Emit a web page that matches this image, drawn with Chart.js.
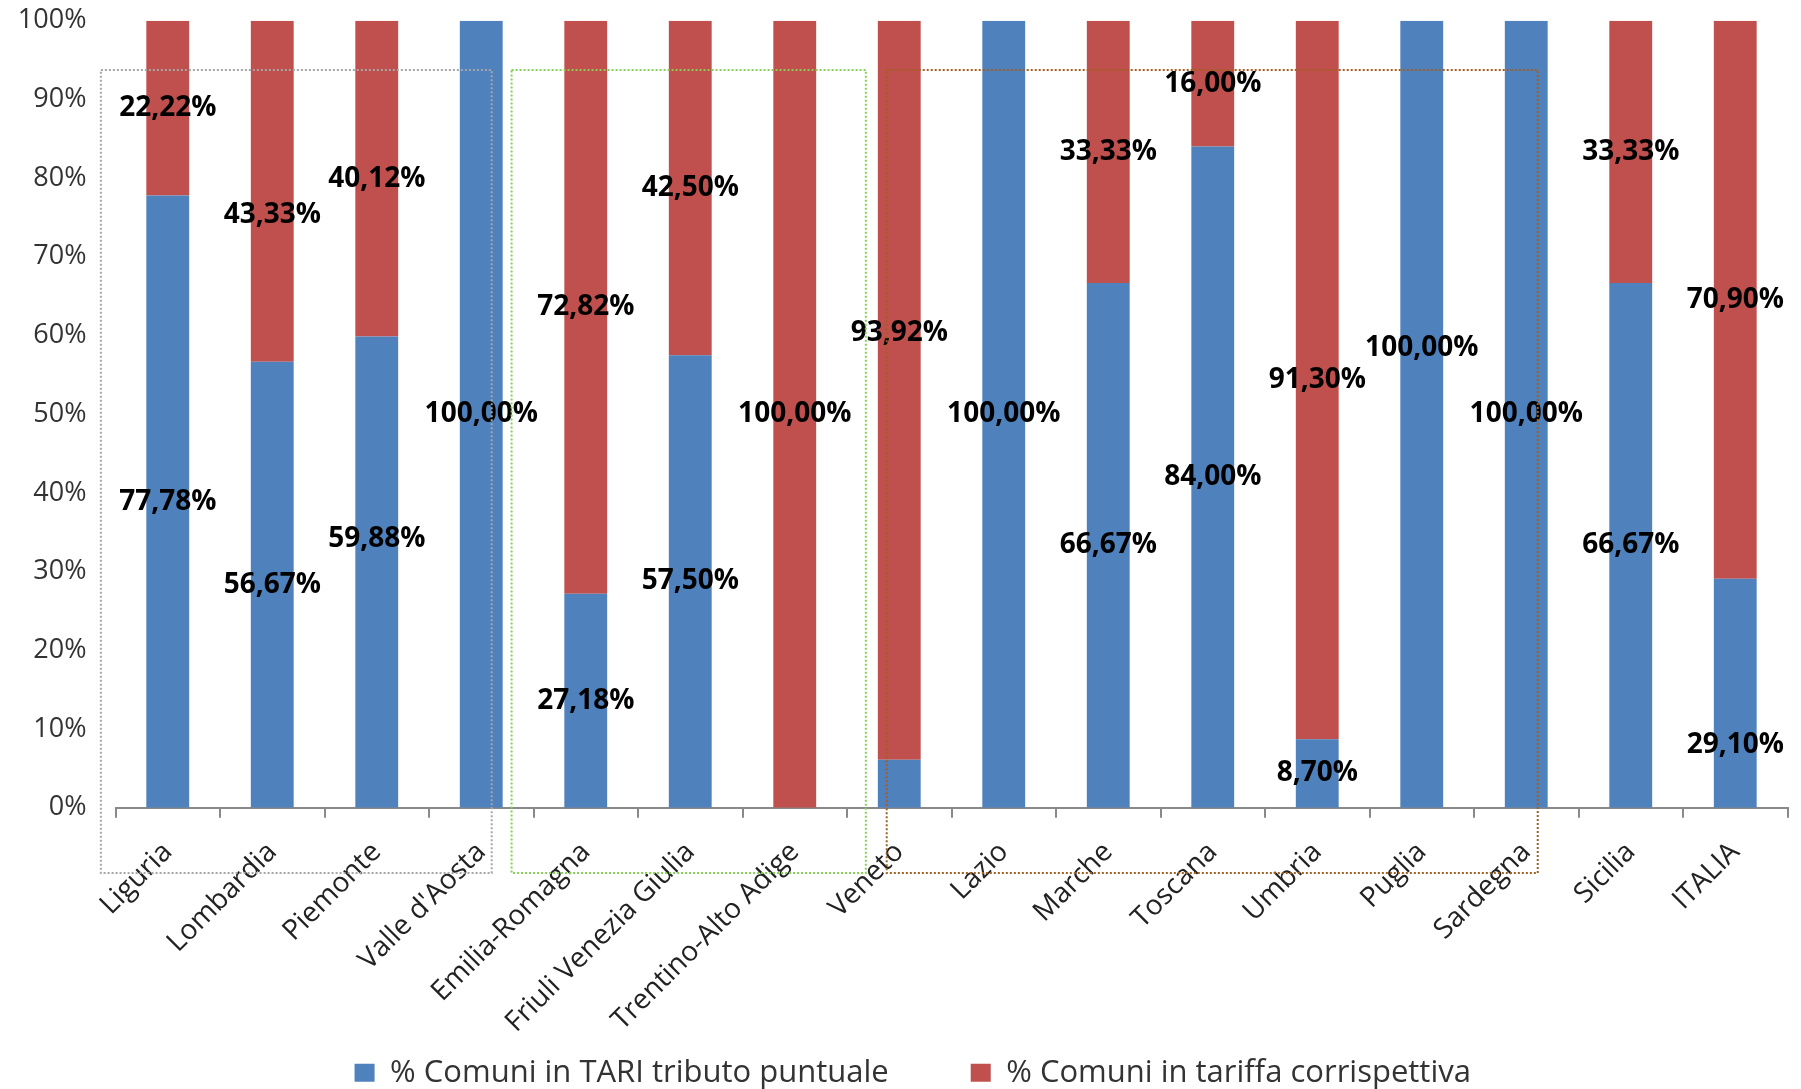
<!DOCTYPE html>
<html lang="it">
<head>
<meta charset="UTF-8">
<title>Comuni in TARI tributo puntuale / tariffa corrispettiva</title>
<script src="https://cdn.jsdelivr.net/npm/chart.js@4.4.1/dist/chart.umd.min.js"></script>
<style>
  html, body { margin: 0; padding: 0; background: #fff; }
  #wrap { width: 1801px; height: 1089px; position: relative; }
</style>
</head>
<body>
<div id="wrap"><canvas id="chart"></canvas></div>
<script>
// dati
const regioni = ['Liguria', 'Lombardia', 'Piemonte', "Valle d'Aosta", 'Emilia-Romagna',
  'Friuli Venezia Giulia', 'Trentino-Alto Adige', 'Veneto', 'Lazio', 'Marche', 'Toscana',
  'Umbria', 'Puglia', 'Sardegna', 'Sicilia', 'ITALIA'];
const tributoPuntuale = [77.78, 56.67, 59.88, 100, 27.18, 57.50, 0, 6.08, 100, 66.67, 84.00, 8.70, 100, 100, 66.67, 29.10];
const tariffaCorrispettiva = [22.22, 43.33, 40.12, 0, 72.82, 42.50, 100, 93.92, 0, 33.33, 16.00, 91.30, 0, 0, 33.33, 70.90];
const serie = ['% Comuni in TARI tributo puntuale', '% Comuni in tariffa corrispettiva'];

const FONT = "'Open Sans', 'DejaVu Sans', sans-serif";

function fmt(v) {
  return v.toFixed(2).replace('.', ',') + '%';
}

// le etichette degli assi possono uscire dal box della scala
function noClip(s) {
  s._computeLabelArea = () => null;
}

// etichette dei valori al centro dei segmenti
const valueLabels = {
  id: 'valueLabels',
  afterDatasetsDraw(chart, args, opts) {
    const ctx = chart.ctx;
    const y = chart.scales.y;
    ctx.save();
    ctx.font = 'bold 28px ' + FONT;
    ctx.fillStyle = '#000';
    ctx.textAlign = 'center';
    ctx.textBaseline = 'middle';
    chart.data.datasets.forEach((ds, di) => {
      chart.getDatasetMeta(di).data.forEach((el, i) => {
        const v = ds.data[i];
        if (!v) return;
        const key = di + ':' + i;
        if (opts.skip.includes(key)) return;
        const py = opts.moved[key] !== undefined ? y.getPixelForValue(opts.moved[key]) : (el.y + el.base) / 2;
        ctx.fillText(fmt(v), el.x, py);
      });
    });
    ctx.restore();
  }
};

// riquadri tratteggiati sopra il grafico
const riquadri = {
  id: 'riquadri',
  afterDraw(chart, args, opts) {
    const ctx = chart.ctx;
    const x = chart.scales.x, y = chart.scales.y;
    ctx.save();
    ctx.lineWidth = 2;
    ctx.setLineDash([2, 2]);
    opts.boxes.forEach(b => {
      const l = x.getPixelForValue(b.from), r = x.getPixelForValue(b.to);
      const t = y.getPixelForValue(opts.top), btm = y.getPixelForValue(opts.bottom);
      ctx.strokeStyle = b.color;
      ctx.strokeRect(l, t, r - l, btm - t);
    });
    ctx.restore();
  }
};

new Chart(document.getElementById('chart'), {
  type: 'bar',
  data: {
    labels: regioni,
    datasets: [
      { label: serie[0], data: tributoPuntuale, backgroundColor: '#4f81bd' },
      { label: serie[1], data: tariffaCorrispettiva, backgroundColor: '#c0504d' }
    ]
  },
  options: {
    responsive: true,
    maintainAspectRatio: false,
    devicePixelRatio: 1,
    animation: false,
    layout: { padding: { top: 20.7, right: 13.5, bottom: 0, left: 38 } },
    datasets: { bar: { barPercentage: 0.41, categoryPercentage: 1 } },
    scales: {
      x: {
        stacked: true,
        grid: { display: true, drawOnChartArea: false, drawTicks: true, tickLength: 10, color: '#898989', lineWidth: 2 },
        border: { display: true, color: '#898989', width: 2 },
        ticks: {
          autoSkip: false, maxRotation: 45, minRotation: 45, padding: 18,
          color: '#222', font: { family: FONT, size: 28 }
        },
        afterFit(s) { s.height = 167.5; s.paddingLeft = 0; s.paddingRight = 0; noClip(s); }
      },
      y: {
        stacked: true,
        min: 0, max: 100,
        grid: { display: false, drawTicks: false },
        border: { display: false },
        ticks: {
          stepSize: 10, padding: 29, color: '#333',
          font: { family: FONT, size: 27 },
          callback: v => v + '%'
        },
        afterFit(s) { s.width = 77.5; s.paddingTop = 0; s.paddingBottom = 0; noClip(s); }
      }
    },
    plugins: {
      legend: {
        position: 'bottom',
        maxHeight: 113.8,
        labels: {
          boxWidth: 20, boxHeight: 18, padding: 82,
          color: '#333', font: { family: FONT, size: 31 }
        }
      },
      tooltip: { enabled: false },
      valueLabels: {
        skip: ['0:7'],
        moved: { '1:1': 75.3, '0:2': 34.2, '1:7': 60.3, '0:12': 58.4, '0:15': 7.9 }
      },
      riquadri: {
        top: 93.74, bottom: -8.3,
        boxes: [
          { from: -0.64, to: 3.10, color: '#a6a6a6' },
          { from: 3.29, to: 6.68, color: '#86cf55' },
          { from: 6.88, to: 13.11, color: '#a25f22' }
        ]
      }
    }
  },
  plugins: [valueLabels, riquadri]
});
</script>
</body>
</html>
